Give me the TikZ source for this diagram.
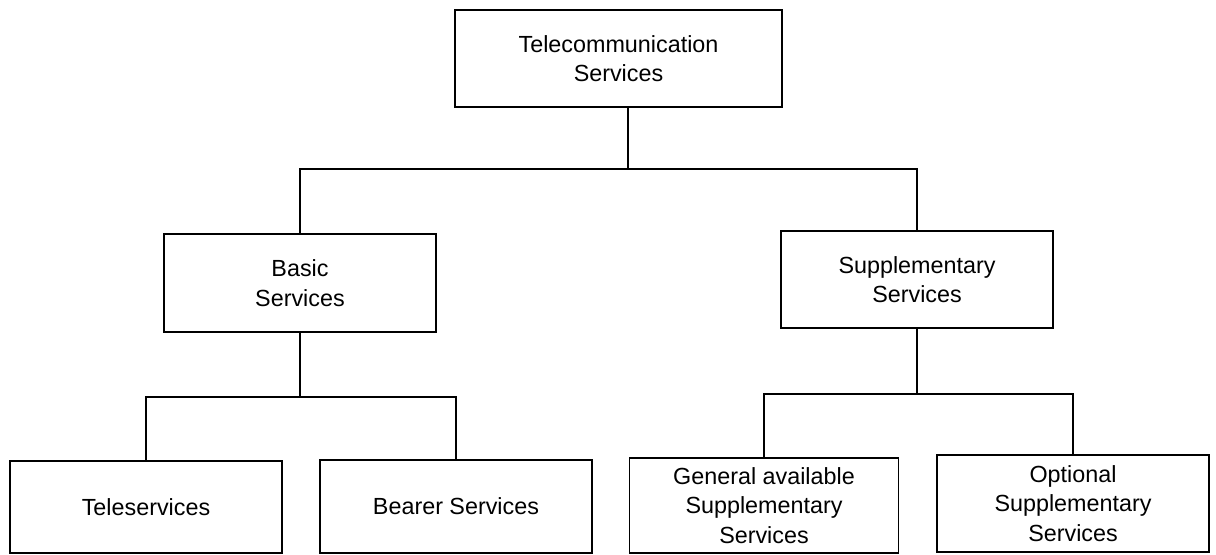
\documentclass[tikz,border=0pt]{standalone}
\usepackage{fontspec}
\setmainfont{Liberation Sans}

\tikzset{
    svcbox/.style={draw, line width=1pt, align=center, inner sep=0pt,
        font=\fontsize{16.6}{21}\selectfont},
    link/.style={line width=1pt}
}

\begin{document}
\begin{tikzpicture}[x=0.025cm, y=-0.025cm]
        \useasboundingbox (0,0) rectangle (1216,554);

        \node[svcbox, minimum width=8.175cm, minimum height=2.425cm] (tcs) at (618.5,58.5) {Telecommunication\\Services};

        \node[svcbox, minimum width=6.8cm, minimum height=2.45cm] (basic) at (300,283) {Basic\\Services};
        \node[svcbox, minimum width=6.8cm, minimum height=2.425cm] (supp) at (917,279.5) {Supplementary\\Services};

        \node[svcbox, minimum width=6.8cm, minimum height=2.3cm] (tele) at (146,507) {Teleservices};
        \node[svcbox, minimum width=6.8cm, minimum height=2.325cm] (bearer) at (456,506.5) {Bearer Services};
        \node[svcbox, minimum width=6.725cm, minimum height=2.375cm] (general) at (764,505.5) {General available\\Supplementary\\Services};
        \node[svcbox, minimum width=6.8cm, minimum height=2.425cm] (optional) at (1073,503.5) {Optional\\Supplementary\\Services};

        \coordinate (jtop) at (628,169);
        \coordinate (jbasic) at (300,397);
        \coordinate (jsupp) at (917,394);

        \draw[link] (tcs.south -| jtop) -- (jtop);
        \draw[link] (basic.north) -- (basic.north |- jtop) -- (supp.north |- jtop) -- (supp.north);

        \draw[link] (basic.south) -- (jbasic);
        \draw[link] (tele.north) -- (tele.north |- jbasic) -- (bearer.north |- jbasic) -- (bearer.north);

        \draw[link] (supp.south) -- (jsupp);
        \draw[link] (general.north) -- (general.north |- jsupp) -- (optional.north |- jsupp) -- (optional.north);

    \end{tikzpicture}
\end{document}
